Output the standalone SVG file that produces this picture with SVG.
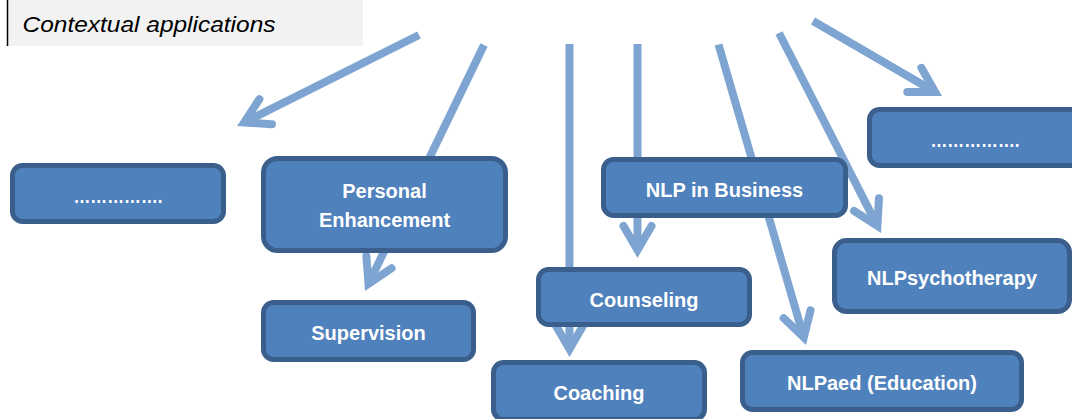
<svg xmlns="http://www.w3.org/2000/svg" width="1072" height="419" viewBox="0 0 1072 419">
<style>
.conn{fill:none;stroke:#7ea5d1;stroke-width:8;stroke-linecap:butt;marker-end:url(#ah)}
.box{fill:#4f81bd;stroke:#3b5f8c;stroke-width:5}
.lbl{font-family:"Liberation Sans",Arial,sans-serif;font-weight:bold;font-size:20px;fill:#ffffff;text-anchor:middle}
.title{font-family:"Liberation Sans",Arial,sans-serif;font-style:italic;font-size:22px;fill:#000000}
</style>
<defs>
<marker id="ah" markerUnits="userSpaceOnUse" viewBox="-40 -20 60 40" refX="0" refY="0" markerWidth="60" markerHeight="40" orient="auto" overflow="visible">
<path d="M-24,-14 L0,0 L-24,14" fill="none" stroke="#7ea5d1" stroke-width="8" stroke-linecap="round" stroke-linejoin="miter"/>
</marker>
</defs>
<rect width="1072" height="419" fill="#ffffff"/>
<g id="title">
<rect x="8" y="0" width="355" height="46" fill="#f2f2f2"/>
<line x1="7.5" y1="0" x2="7.5" y2="46" stroke="#000000" stroke-width="1.5"/>
<text class="title" x="22.5" y="32" textLength="253" lengthAdjust="spacingAndGlyphs">Contextual applications</text>
</g>
<g id="connectors">
<line class="conn" x1="419" y1="35" x2="244.2" y2="122.4"/>
<line class="conn" x1="484" y1="45" x2="368.5" y2="283.8"/>
<line class="conn" x1="569.5" y1="44" x2="569.5" y2="349"/>
<line class="conn" x1="637.5" y1="44" x2="637.5" y2="250"/>
<line class="conn" x1="718.5" y1="44.5" x2="803.8" y2="337.3"/>
<line class="conn" x1="779" y1="33" x2="877.4" y2="225.9"/>
<line class="conn" x1="813" y1="21" x2="935.1" y2="92"/>
</g>
<g id="node-dots-left">
<rect class="box" x="12.5" y="165.5" width="211" height="56" rx="10"/>
<text class="lbl" x="118" y="203" textLength="89" lengthAdjust="spacingAndGlyphs">…………….</text>
</g>
<g id="node-personal">
<rect class="box" x="263.5" y="158.5" width="242" height="92" rx="14"/>
<text class="lbl" x="384.5" y="198">Personal</text>
<text class="lbl" x="384.5" y="227">Enhancement</text>
</g>
<g id="node-supervision">
<rect class="box" x="263.5" y="302.5" width="210" height="57" rx="10"/>
<text class="lbl" x="368.5" y="340">Supervision</text>
</g>
<g id="node-business">
<rect class="box" x="603.5" y="159.5" width="242" height="56" rx="10"/>
<text class="lbl" x="724.5" y="197">NLP in Business</text>
</g>
<g id="node-counseling">
<rect class="box" x="538.5" y="269.5" width="211" height="55" rx="10"/>
<text class="lbl" x="644" y="307">Counseling</text>
</g>
<g id="node-coaching">
<rect class="box" x="493.5" y="362.5" width="211" height="57" rx="10"/>
<text class="lbl" x="599" y="400">Coaching</text>
</g>
<g id="node-nlpaed">
<rect class="box" x="742.5" y="352.5" width="279" height="57" rx="10"/>
<text class="lbl" x="882" y="390">NLPaed (Education)</text>
</g>
<g id="node-psychotherapy">
<rect class="box" x="834.5" y="240.5" width="235" height="71" rx="12"/>
<text class="lbl" x="952" y="285">NLPsychotherapy</text>
</g>
<g id="node-dots-right">
<rect class="box" x="869.5" y="109.5" width="211" height="56" rx="10"/>
<text class="lbl" x="975" y="147" textLength="89" lengthAdjust="spacingAndGlyphs">…………….</text>
</g>
</svg>
